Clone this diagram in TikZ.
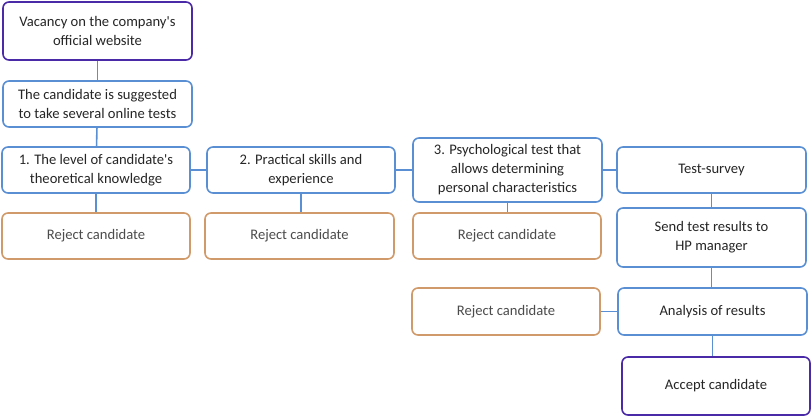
\documentclass[tikz,border=0pt]{standalone}
\usepackage{fontspec}
\setmainfont{Carlito}
\definecolor{stepblue}{HTML}{5B8FD4}
\definecolor{rejorange}{HTML}{D19A6A}
\definecolor{endpurple}{HTML}{4B2AA8}
\tikzset{
  box/.style = {draw = stepblue, line width = 1.6pt, rounded corners = 6pt,
    fill = white, align = center, text = black!85,
    font = \fontsize{14.6}{19}\selectfont, inner sep = 2pt},
  reject/.style = {box, draw = rejorange, text = black!70},
  endbox/.style = {box, draw = endpurple},
  link/.style = {draw = stepblue, line width = 1.6pt}
}
\begin{document}
\begin{tikzpicture}[x = 1pt, y = -1pt]
      \useasboundingbox (0,0) rectangle (811,417);
      \node [endbox, minimum width = 189pt, minimum height = 58pt] (vac) at (97.5,31) {Vacancy on the company\textquotesingle s\\official website};
      \node [box, minimum width = 189pt, minimum height = 46pt] (sugg) at (97.5,104) {The candidate is suggested\\to take several online tests};
      \node [box, minimum width = 188pt, minimum height = 46pt] (t1) at (96,170) {1. The level of candidate\textquotesingle s\\theoretical knowledge};
      \node [box, minimum width = 188pt, minimum height = 46pt] (t2) at (301,170) {2. Practical skills and\\experience};
      \node [box, minimum width = 189pt, minimum height = 64pt] (t3) at (507.5,170) {3. Psychological test that\\allows determining\\personal characteristics};
      \node [box, minimum width = 189pt, minimum height = 46pt] (surv) at (711.5,170) {Test-survey};
      \node [reject, minimum width = 188pt, minimum height = 46pt] (rej1) at (96,236) {Reject candidate};
      \node [reject, minimum width = 189pt, minimum height = 46pt] (rej2) at (299.5,236) {Reject candidate};
      \node [reject, minimum width = 188pt, minimum height = 46pt] (rej3) at (507,236) {Reject candidate};
      \node [box, minimum width = 189pt, minimum height = 59pt] (send) at (711.5,237.5) {Send test results to\\HP manager};
      \node [reject, minimum width = 188pt, minimum height = 47pt] (rej4) at (506,311.5) {Reject candidate};
      \node [box, minimum width = 189pt, minimum height = 47pt] (anal) at (712.5,311.5) {Analysis of results};
      \node [endbox, minimum width = 188pt, minimum height = 58pt] (acc) at (716,386) {Accept candidate};
      \draw [link] (vac) -- (sugg);
      \draw [link] (sugg) -- (t1);
      \draw [link] (t1) -- (t2);
      \draw [link] (t2) -- (t3);
      \draw [link] (t3) -- (surv);
      \draw [link] (t1) -- (rej1);
      \draw [link] (t2.south) -- (t2.south |- rej2.north);
      \draw [link] (t3.south) -- (t3.south |- rej3.north);
      \draw [link] (surv) -- (send);
      \draw [link] (send.south) -- (send.south |- anal.north);
      \draw [link] (anal) -- (rej4);
      \draw [link] (anal.south) -- (anal.south |- acc.north);
    \end{tikzpicture}
\end{document}
